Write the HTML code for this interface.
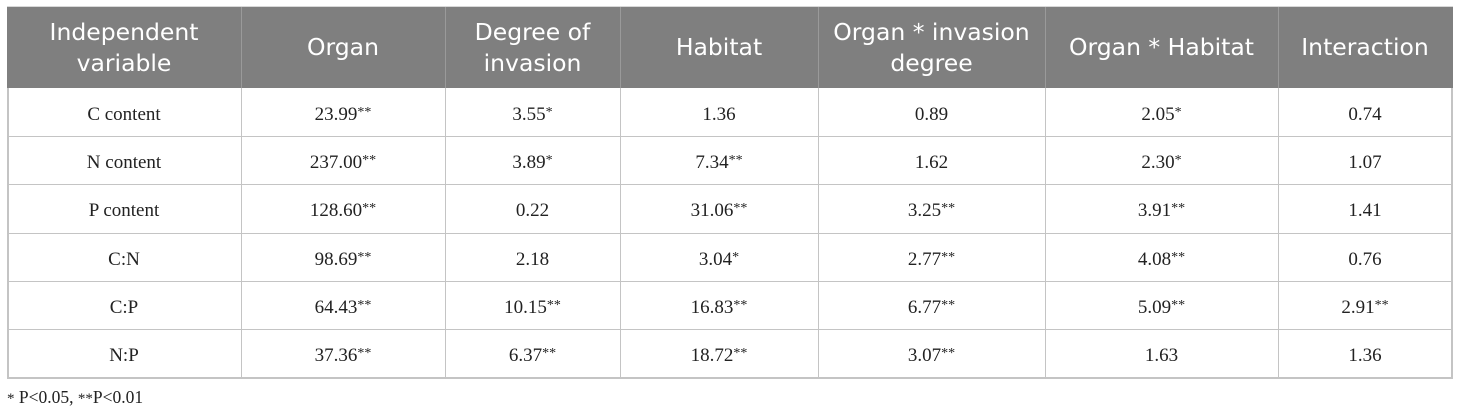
<!DOCTYPE html>
<html>
<head>
<meta charset="utf-8">
<style>
  html, body { margin:0; padding:0; background:#fff; }
  body { width:1460px; height:413px; position:relative; overflow:hidden; }
  .hdr { position:absolute; left:7px; top:7px; width:1446px; height:81px; background:#7f7f7f; }
  .c { position:absolute; display:flex; align-items:center; justify-content:center; text-align:center; }
  .h { font-family:"DejaVu Sans", "Liberation Sans", sans-serif; font-size:23.5px; color:#fff; line-height:31px; }
  .b { font-family:"Liberation Serif", serif; font-size:19px; color:#222; padding-top:3px; box-sizing:border-box; }
  .s { font-size:14px; position:relative; top:-2px; }
  .vl { position:absolute; width:1px; background:#c4c4c4; }
  .hl { position:absolute; height:1px; background:#c4c4c4; left:7px; width:1446px; }
  .vh { position:absolute; width:1px; background:#9a9a9a; top:7px; height:81px; }
  .foot { position:absolute; left:7px; top:387px; font-family:"Liberation Serif", serif; font-size:17.5px; color:#222; }
</style>
</head>
<body>
<div class="hdr"></div>
<div class="hl" style="top:6px;background:#d8d8d8;"></div>

<!-- header separators -->
<div class="vh" style="left:241px"></div>
<div class="vh" style="left:445px"></div>
<div class="vh" style="left:620px"></div>
<div class="vh" style="left:818px"></div>
<div class="vh" style="left:1045px"></div>
<div class="vh" style="left:1278px"></div>

<!-- header cells -->
<div class="c h" style="left:7px;top:7px;width:234px;height:81px;">Independent<br>variable</div>
<div class="c h" style="left:241px;top:7px;width:204px;height:81px;">Organ</div>
<div class="c h" style="left:445px;top:7px;width:175px;height:81px;">Degree of<br>invasion</div>
<div class="c h" style="left:620px;top:7px;width:198px;height:81px;">Habitat</div>
<div class="c h" style="left:818px;top:7px;width:227px;height:81px;">Organ * invasion<br>degree</div>
<div class="c h" style="left:1045px;top:7px;width:233px;height:81px;">Organ * Habitat</div>
<div class="c h" style="left:1278px;top:7px;width:174px;height:81px;">Interaction</div>

<!-- grid lines body -->
<div class="vl" style="left:7px;top:88px;height:290px;width:2px;"></div>
<div class="vl" style="left:241px;top:88px;height:290px;"></div>
<div class="vl" style="left:445px;top:88px;height:290px;"></div>
<div class="vl" style="left:620px;top:88px;height:290px;"></div>
<div class="vl" style="left:818px;top:88px;height:290px;"></div>
<div class="vl" style="left:1045px;top:88px;height:290px;"></div>
<div class="vl" style="left:1278px;top:88px;height:290px;"></div>
<div class="vl" style="left:1451px;top:88px;height:290px;width:2px;"></div>

<div class="hl" style="top:136px;"></div>
<div class="hl" style="top:184px;"></div>
<div class="hl" style="top:233px;"></div>
<div class="hl" style="top:281px;"></div>
<div class="hl" style="top:329px;"></div>
<div class="hl" style="top:377px;height:2px;"></div>

<!-- row 1 -->
<div class="c b" style="left:7px;top:89px;width:234px;height:48px;">C content</div>
<div class="c b" style="left:241px;top:89px;width:204px;height:48px;">23.99<span class="s">**</span></div>
<div class="c b" style="left:445px;top:89px;width:175px;height:48px;">3.55<span class="s">*</span></div>
<div class="c b" style="left:620px;top:89px;width:198px;height:48px;">1.36</div>
<div class="c b" style="left:818px;top:89px;width:227px;height:48px;">0.89</div>
<div class="c b" style="left:1045px;top:89px;width:233px;height:48px;">2.05<span class="s">*</span></div>
<div class="c b" style="left:1278px;top:89px;width:174px;height:48px;">0.74</div>

<!-- row 2 -->
<div class="c b" style="left:7px;top:137px;width:234px;height:48px;">N content</div>
<div class="c b" style="left:241px;top:137px;width:204px;height:48px;">237.00<span class="s">**</span></div>
<div class="c b" style="left:445px;top:137px;width:175px;height:48px;">3.89<span class="s">*</span></div>
<div class="c b" style="left:620px;top:137px;width:198px;height:48px;">7.34<span class="s">**</span></div>
<div class="c b" style="left:818px;top:137px;width:227px;height:48px;">1.62</div>
<div class="c b" style="left:1045px;top:137px;width:233px;height:48px;">2.30<span class="s">*</span></div>
<div class="c b" style="left:1278px;top:137px;width:174px;height:48px;">1.07</div>

<!-- row 3 -->
<div class="c b" style="left:7px;top:185px;width:234px;height:48px;">P content</div>
<div class="c b" style="left:241px;top:185px;width:204px;height:48px;">128.60<span class="s">**</span></div>
<div class="c b" style="left:445px;top:185px;width:175px;height:48px;">0.22</div>
<div class="c b" style="left:620px;top:185px;width:198px;height:48px;">31.06<span class="s">**</span></div>
<div class="c b" style="left:818px;top:185px;width:227px;height:48px;">3.25<span class="s">**</span></div>
<div class="c b" style="left:1045px;top:185px;width:233px;height:48px;">3.91<span class="s">**</span></div>
<div class="c b" style="left:1278px;top:185px;width:174px;height:48px;">1.41</div>

<!-- row 4 -->
<div class="c b" style="left:7px;top:234px;width:234px;height:48px;">C:N</div>
<div class="c b" style="left:241px;top:234px;width:204px;height:48px;">98.69<span class="s">**</span></div>
<div class="c b" style="left:445px;top:234px;width:175px;height:48px;">2.18</div>
<div class="c b" style="left:620px;top:234px;width:198px;height:48px;">3.04<span class="s">*</span></div>
<div class="c b" style="left:818px;top:234px;width:227px;height:48px;">2.77<span class="s">**</span></div>
<div class="c b" style="left:1045px;top:234px;width:233px;height:48px;">4.08<span class="s">**</span></div>
<div class="c b" style="left:1278px;top:234px;width:174px;height:48px;">0.76</div>

<!-- row 5 -->
<div class="c b" style="left:7px;top:282px;width:234px;height:48px;">C:P</div>
<div class="c b" style="left:241px;top:282px;width:204px;height:48px;">64.43<span class="s">**</span></div>
<div class="c b" style="left:445px;top:282px;width:175px;height:48px;">10.15<span class="s">**</span></div>
<div class="c b" style="left:620px;top:282px;width:198px;height:48px;">16.83<span class="s">**</span></div>
<div class="c b" style="left:818px;top:282px;width:227px;height:48px;">6.77<span class="s">**</span></div>
<div class="c b" style="left:1045px;top:282px;width:233px;height:48px;">5.09<span class="s">**</span></div>
<div class="c b" style="left:1278px;top:282px;width:174px;height:48px;">2.91<span class="s">**</span></div>

<!-- row 6 -->
<div class="c b" style="left:7px;top:330px;width:234px;height:48px;">N:P</div>
<div class="c b" style="left:241px;top:330px;width:204px;height:48px;">37.36<span class="s">**</span></div>
<div class="c b" style="left:445px;top:330px;width:175px;height:48px;">6.37<span class="s">**</span></div>
<div class="c b" style="left:620px;top:330px;width:198px;height:48px;">18.72<span class="s">**</span></div>
<div class="c b" style="left:818px;top:330px;width:227px;height:48px;">3.07<span class="s">**</span></div>
<div class="c b" style="left:1045px;top:330px;width:233px;height:48px;">1.63</div>
<div class="c b" style="left:1278px;top:330px;width:174px;height:48px;">1.36</div>

<div class="foot"><span style="font-size:15px">*</span> P&lt;0.05, <span style="font-size:15px">**</span>P&lt;0.01</div>
</body>
</html>
